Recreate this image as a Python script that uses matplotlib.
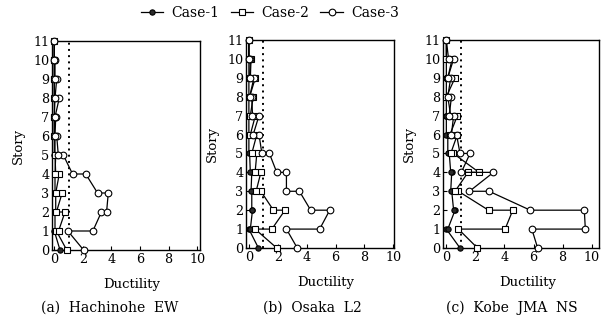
import numpy as np
import matplotlib
matplotlib.use("Agg")
import matplotlib.pyplot as plt
from matplotlib.lines import Line2D

plt.rcParams['font.family'] = ['DejaVu Serif']

# story level of every point along a profile: base, two points per floor, roof
story_path = [0] + [s for s in range(1, 11) for _ in range(2)] + [11]

# (a) Hachinohe EW
a_case1 = [0.4, 0.0, 0.05, 0.05, 0.1, 0.1, 0.05, 0.05, 0.1, 0.05, 0.0,
           0.0, 0.0, 0.0, 0.0, 0.0, 0.0, 0.0, 0.0, 0.0, 0.0, 0.0]
a_case2 = [0.87, 0.15, 0.3, 0.75, 0.15, 0.55, 0.1, 0.35, 0.05, 0.1, 0.05,
           0.05, 0.0, 0.0, 0.0, 0.05, 0.0, 0.0, 0.0, 0.0, 0.0, 0.0]
a_case3 = [2.05, 0.95, 2.7, 3.3, 3.66, 3.78, 3.03, 2.2, 1.28, 0.63, 0.28,
           0.17, 0.05, 0.1, 0.05, 0.35, 0.05, 0.17, 0.05, 0.05, 0.0, 0.0]

# (b) Osaka L2
b_case1 = [0.66, 0.0, 0.1, 0.25, 0.2, 0.2, 0.15, 0.2, 0.1, 0.05, 0.0,
           0.0, 0.0, 0.0, 0.0, 0.0, 0.0, 0.0, 0.0, 0.0, 0.0, 0.0]
b_case2 = [1.93, 0.43, 1.59, 2.5, 1.7, 0.83, 0.5, 0.83, 0.43, 0.55, 0.2,
           0.55, 0.1, 0.45, 0.1, 0.3, 0.05, 0.45, 0.1, 0.15, 0.0, 0.0]
b_case3 = [3.35, 2.6, 4.9, 5.6, 4.28, 3.5, 2.6, 2.6, 1.93, 1.42, 0.9,
           0.7, 0.3, 0.7, 0.25, 0.2, 0.05, 0.35, 0.05, 0.1, 0.0, 0.0]

# (c) Kobe JMA NS
c_case1 = [0.94, 0.0, 0.1, 0.6, 0.5, 0.37, 0.3, 0.37, 0.3, 0.2, 0.1,
           0.1, 0.0, 0.0, 0.0, 0.0, 0.0, 0.0, 0.0, 0.0, 0.0, 0.0]
c_case2 = [2.14, 0.83, 4.04, 4.57, 2.9, 0.83, 0.6, 1.49, 2.25, 0.48, 0.3,
           0.76, 0.25, 0.76, 0.3, 0.1, 0.0, 0.6, 0.1, 0.4, 0.0, 0.0]
c_case3 = [6.28, 5.88, 9.56, 9.49, 5.77, 2.94, 1.59, 3.24, 1.03, 1.63, 0.94,
           0.7, 0.35, 0.5, 0.2, 0.35, 0.1, 0.3, 0.1, 0.5, 0.15, 0.0]

case_labels = ['Case-1', 'Case-2', 'Case-3']
panel_titles = ['(a)  Hachinohe  EW', '(b)  Osaka  L2', '(c)  Kobe  JMA  NS']
xticks = [0, 2, 4, 6, 8, 10]
yticks = list(range(12))
limit_ductility = 1.0

panels = [(a_case1, a_case2, a_case3),
          (b_case1, b_case2, b_case3),
          (c_case1, c_case2, c_case3)]

W, H = 608, 327
fig = plt.figure(figsize=(W / 100, H / 100), dpi=100)

# axes boxes in pixels: left, right, top, bottom
boxes = [(52, 200, 41, 250), (246, 394, 40, 248), (443, 599, 40, 248)]
xlims = [(-0.16, 10.2), (-0.2, 10.05), (-0.23, 10.5)]
title_x = [110, 312, 512]

styles = [dict(marker='o', markersize=3.8, markerfacecolor='#2a2a2a', markeredgecolor='black'),
          dict(marker='s', markersize=4.6, markerfacecolor='white', markeredgecolor='black'),
          dict(marker='o', markersize=4.8, markerfacecolor='white', markeredgecolor='black')]

for (l, r, t, b), xl, cases, tt, tx in zip(boxes, xlims, panels, panel_titles, title_x):
    ax = fig.add_axes([l / W, 1 - b / H, (r - l) / W, (b - t) / H])
    ax.plot([limit_ductility, limit_ductility], [0, 11], color='black',
            linestyle=(0, (1, 2.2)), linewidth=1.4, zorder=1)
    for vals, st in zip(cases, styles):
        ax.plot(vals, story_path, color='black', linewidth=0.9,
                markeredgewidth=0.8, clip_on=False, zorder=3, **st)
    ax.set_xlim(*xl)
    ax.set_ylim(0, 11)
    ax.set_xticks(xticks)
    ax.set_yticks(yticks)
    ax.tick_params(direction='in', length=3, width=0.8, labelsize=9.2, pad=2)
    for sp in ax.spines.values():
        sp.set_linewidth(1.0)
    ax.set_xlabel('Ductility', fontsize=9.5)
    ax.xaxis.set_label_coords(0.54, -0.135)
    ax.text(-34 / (r - l), 0.5, 'Story', transform=ax.transAxes, rotation=90,
            ha='center', va='center', fontsize=9.5)
    fig.text(tx / W, 1 - 308 / H, tt, ha='center', va='center', fontsize=10)

handles = [Line2D([], [], color='black', linewidth=0.9, markeredgewidth=0.8, **st)
           for st in styles]
fig.legend(handles, case_labels, loc='center', bbox_to_anchor=(270 / W, 1 - 13 / H),
           ncol=3, frameon=False, fontsize=10, handlelength=1.6, handletextpad=0.6,
           columnspacing=0.8, borderpad=0)

fig.savefig('out.png', dpi=100)
